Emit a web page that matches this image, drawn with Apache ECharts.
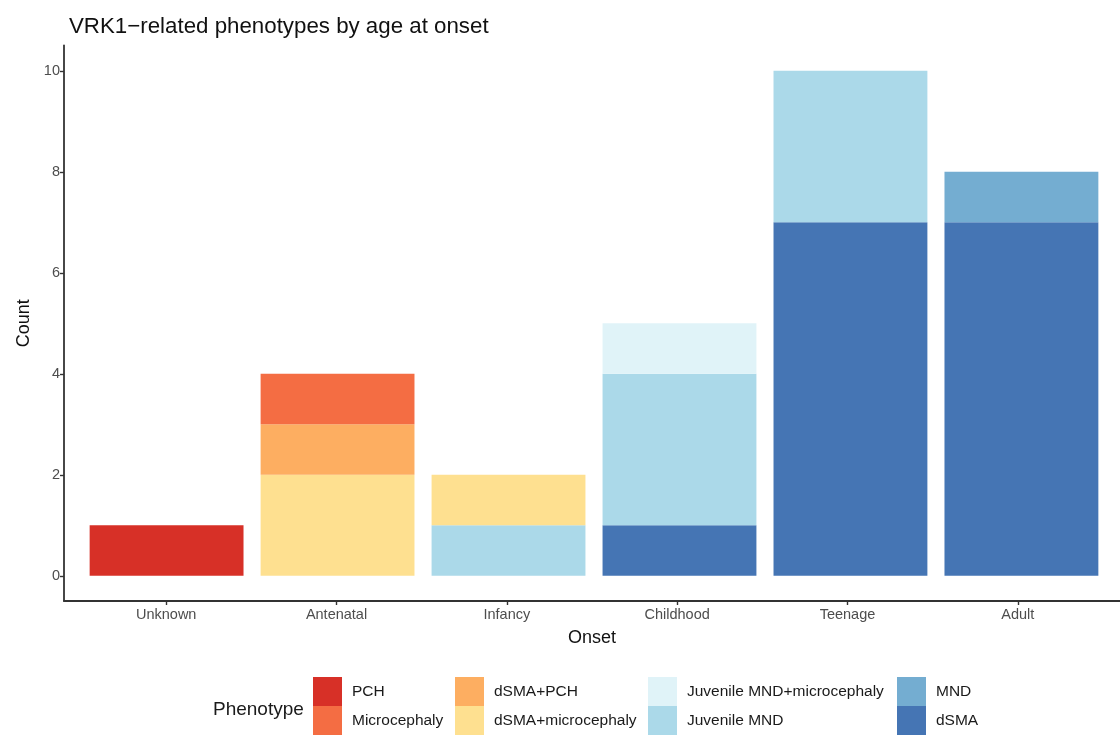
<!DOCTYPE html>
<html>
<head>
<meta charset="utf-8">
<title>VRK1-related phenotypes by age at onset</title>
<script src="https://cdn.jsdelivr.net/npm/echarts@6/dist/echarts.min.js"></script>
<style>
  html, body { margin: 0; padding: 0; background: #fff; }
  #chart { width: 1120px; height: 736px; }
</style>
</head>
<body>
<div id="chart"></div>
<script>
// Age-at-onset groups along the x axis
const categories = ['Unknown', 'Antenatal', 'Infancy', 'Childhood', 'Teenage', 'Adult'];

// Patient counts per phenotype, one value per onset group
const dSMA = [0, 0, 0, 1, 7, 7];
const MND = [0, 0, 0, 0, 0, 1];
const juvenileMND = [0, 0, 1, 3, 3, 0];
const juvenileMNDMicro = [0, 0, 0, 1, 0, 0];
const dSMAMicro = [0, 2, 1, 0, 0, 0];
const dSMAPCH = [0, 1, 0, 0, 0, 0];
const microcephaly = [0, 1, 0, 0, 0, 0];
const PCH = [1, 0, 0, 0, 0, 0];

const yTicks = [0, 2, 4, 6, 8, 10];
const xTicks = [1, 2, 3, 4, 5, 6];

// Stacking order: first entry sits at the bottom of each bar
const phenotypes = [
  { name: 'dSMA', data: dSMA, color: '#4575b4' },
  { name: 'MND', data: MND, color: '#74add1' },
  { name: 'Juvenile MND', data: juvenileMND, color: '#abd9e9' },
  { name: 'Juvenile MND+microcephaly', data: juvenileMNDMicro, color: '#e0f3f8' },
  { name: 'dSMA+microcephaly', data: dSMAMicro, color: '#fee090' },
  { name: 'dSMA+PCH', data: dSMAPCH, color: '#fdae61' },
  { name: 'Microcephaly', data: microcephaly, color: '#f46d43' },
  { name: 'PCH', data: PCH, color: '#d73027' }
];

// Legend columns, read top-to-bottom
const legendColumns = [
  ['PCH', 'Microcephaly'],
  ['dSMA+PCH', 'dSMA+microcephaly'],
  ['Juvenile MND+microcephaly', 'Juvenile MND'],
  ['MND', 'dSMA']
];
const legendLefts = [313, 455, 648, 897];

const FONT = '"Liberation Sans", Arial, Helvetica, sans-serif';
const AXIS_COLOR = '#333333';
const TICK_TEXT = '#4d4d4d';

// Panel geometry: the frame spans the padded range (0.4..6.6, -0.5..10.5),
// the bar grid spans the data range inside it.
const PANEL_LEFT = 64, PANEL_WIDTH = 1060, PANEL_TOP = 45.5, PANEL_BOTTOM_Y = 601;
const X_MIN = 0.4, X_MAX = 6.6, Y_MIN = -0.5, Y_MAX = 10.5;
const xUnit = PANEL_WIDTH / (X_MAX - X_MIN);
const yUnit = (PANEL_BOTTOM_Y - PANEL_TOP) / (Y_MAX - Y_MIN);
const CW = 1120, CH = 736;

const chart = echarts.init(document.getElementById('chart'), null, { renderer: 'canvas' });

const option = {
  backgroundColor: '#ffffff',
  animation: false,
  textStyle: { fontFamily: FONT },
  title: {
    text: 'VRK1\u2212related phenotypes by age at onset',
    left: 64,
    top: 11,
    textStyle: { fontFamily: FONT, fontSize: 22.3, fontWeight: 'normal', color: '#111' }
  },
  graphic: [{
    type: 'text',
    left: 213,
    top: 700,
    style: { text: 'Phenotype', font: '19px ' + FONT, fill: '#1a1a1a' }
  }],
  legend: legendColumns.map((col, i) => ({
    data: col,
    orient: 'vertical',
    left: legendLefts[i],
    top: 677,
    padding: 0,
    itemGap: 0,
    itemWidth: 29,
    itemHeight: 29,
    icon: 'rect',
    selectedMode: false,
    textStyle: { fontFamily: FONT, fontSize: 15.5, color: '#1a1a1a', padding: [0, 0, 0, 5] }
  })),
  grid: [
    // bars: data range only
    {
      left: PANEL_LEFT + (0.5 - X_MIN) * xUnit,
      right: CW - (PANEL_LEFT + (6.5 - X_MIN) * xUnit),
      top: PANEL_TOP + (Y_MAX - 10) * yUnit,
      bottom: CH - (PANEL_BOTTOM_Y - (0 - Y_MIN) * yUnit),
      containLabel: false
    },
    // frame: padded panel carrying axis lines, ticks and labels
    {
      left: PANEL_LEFT,
      right: CW - (PANEL_LEFT + PANEL_WIDTH),
      top: PANEL_TOP,
      bottom: CH - PANEL_BOTTOM_Y,
      containLabel: false
    }
  ],
  xAxis: [
    {
      type: 'category',
      gridIndex: 0,
      data: categories,
      boundaryGap: true,
      show: false
    },
    {
      type: 'value',
      gridIndex: 1,
      min: X_MIN,
      max: X_MAX,
      name: 'Onset',
      nameLocation: 'middle',
      nameGap: 28,
      nameTextStyle: { fontFamily: FONT, fontSize: 18, color: '#111' },
      axisLine: { show: true, onZero: false, lineStyle: { color: AXIS_COLOR, width: 1.8 } },
      axisTick: { show: true, length: 4, customValues: xTicks, lineStyle: { color: AXIS_COLOR, width: 1.4 } },
      axisLabel: {
        fontFamily: FONT, fontSize: 14.5, color: TICK_TEXT, margin: 6,
        customValues: xTicks,
        formatter: v => categories[Math.round(v) - 1]
      },
      splitLine: { show: false }
    }
  ],
  yAxis: [
    {
      type: 'value',
      gridIndex: 0,
      min: 0,
      max: 10,
      show: false
    },
    {
      type: 'value',
      gridIndex: 1,
      min: Y_MIN,
      max: Y_MAX,
      name: 'Count',
      nameLocation: 'middle',
      nameGap: 28,
      nameRotate: 90,
      nameTextStyle: { fontFamily: FONT, fontSize: 18, color: '#111' },
      axisLine: { show: true, onZero: false, lineStyle: { color: AXIS_COLOR, width: 1.8 } },
      axisTick: { show: true, length: 4, customValues: yTicks, lineStyle: { color: AXIS_COLOR, width: 1.4 } },
      axisLabel: { fontFamily: FONT, fontSize: 14.5, color: TICK_TEXT, margin: 4, customValues: yTicks },
      splitLine: { show: false }
    }
  ],
  series: phenotypes.map(p => ({
    name: p.name,
    type: 'bar',
    stack: 'onset',
    xAxisIndex: 0,
    yAxisIndex: 0,
    barWidth: '90%',
    data: p.data,
    itemStyle: { color: p.color, borderWidth: 0 },
    emphasis: { disabled: true }
  }))
};

chart.setOption(option);
</script>
</body>
</html>
